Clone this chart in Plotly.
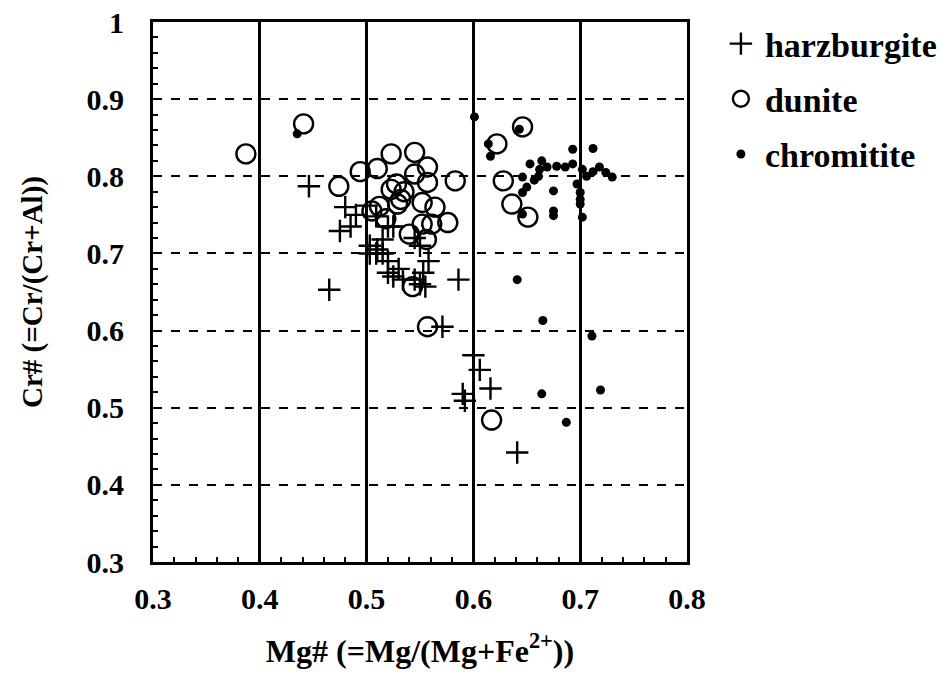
import plotly.graph_objects as go

harz_x = [0.446, 0.480, 0.475, 0.485, 0.490, 0.500, 0.509, 0.503, 0.509, 0.515, 0.515, 0.520,
          0.525, 0.520, 0.525, 0.534, 0.545, 0.550, 0.553, 0.555, 0.558, 0.550, 0.545, 0.586,
          0.571, 0.465, 0.600, 0.606, 0.590, 0.592, 0.616, 0.641, 0.503, 0.520, 0.510, 0.530]
harz_y = [0.787, 0.760, 0.729, 0.735, 0.750, 0.762, 0.748, 0.700, 0.700, 0.700, 0.718, 0.735,
          0.735, 0.675, 0.670, 0.666, 0.666, 0.660, 0.675, 0.657, 0.690, 0.710, 0.720, 0.666,
          0.605, 0.653, 0.568, 0.549, 0.518, 0.509, 0.525, 0.442, 0.710, 0.690, 0.705, 0.680]

dun_x = [0.387, 0.441, 0.474, 0.494, 0.510, 0.523, 0.545, 0.557, 0.545, 0.557, 0.583, 0.528,
         0.523, 0.552, 0.564, 0.512, 0.529, 0.552, 0.561, 0.576, 0.556, 0.543, 0.557, 0.617,
         0.646, 0.622, 0.628, 0.636, 0.651, 0.535, 0.505, 0.540, 0.518, 0.532]
dun_y = [0.829, 0.868, 0.787, 0.806, 0.810, 0.829, 0.831, 0.812, 0.803, 0.792, 0.794, 0.790,
         0.783, 0.766, 0.760, 0.761, 0.764, 0.738, 0.738, 0.740, 0.718, 0.657, 0.605, 0.484,
         0.864, 0.842, 0.794, 0.764, 0.747, 0.780, 0.755, 0.725, 0.745, 0.770]

chr_x = [0.435, 0.601, 0.643, 0.614, 0.616, 0.646, 0.653, 0.664, 0.669, 0.678, 0.686, 0.693,
         0.712, 0.693, 0.702, 0.712, 0.718, 0.730, 0.646, 0.661, 0.650, 0.646, 0.675, 0.697,
         0.700, 0.700, 0.700, 0.675, 0.675, 0.702, 0.662, 0.641, 0.665, 0.711, 0.664, 0.687,
         0.719, 0.706, 0.724, 0.657]
chr_y = [0.855, 0.877, 0.861, 0.842, 0.826, 0.751, 0.816, 0.820, 0.812, 0.813, 0.812, 0.835,
         0.836, 0.816, 0.809, 0.806, 0.812, 0.799, 0.799, 0.800, 0.786, 0.779, 0.781, 0.790,
         0.779, 0.770, 0.764, 0.755, 0.749, 0.747, 0.809, 0.666, 0.613, 0.593, 0.518, 0.481,
         0.523, 0.800, 0.805, 0.795]

x_ticks = [0.3, 0.4, 0.5, 0.6, 0.7, 0.8]
y_ticks = [0.3, 0.4, 0.5, 0.6, 0.7, 0.8, 0.9, 1.0]
y_tick_text = ["0.3", "0.4", "0.5", "0.6", "0.7", "0.8", "0.9", "1"]

font_family = "Liberation Serif"

fig = go.Figure()
fig.add_trace(go.Scatter(x=harz_x, y=harz_y, mode="markers", name="<b>harzburgite</b>",
                         legendgroup="h",
                         marker=dict(symbol="cross-thin", size=16, color="black",
                                     line=dict(color="black", width=2.4))))
fig.add_trace(go.Scatter(x=dun_x, y=dun_y, mode="markers", name="<b>dunite</b>",
                         legendgroup="d",
                         marker=dict(symbol="circle-open", size=19, color="black",
                                     line=dict(color="black", width=2.4))))
fig.add_trace(go.Scatter(x=chr_x, y=chr_y, mode="markers", name="<b>chromitite</b>",
                         legendgroup="c",
                         marker=dict(symbol="circle", size=9, color="black")))

fig.update_layout(
    width=947, height=683,
    margin=dict(l=153, r=260, t=22, b=121, autoexpand=False),
    paper_bgcolor="white", plot_bgcolor="white",
    font=dict(family=font_family, color="black", size=24),
    legend=dict(x=1.056, y=1.013, xanchor="left", yanchor="top",
                font=dict(family=font_family, size=34, color="black"),
                bgcolor="rgba(0,0,0,0)", tracegroupgap=8, itemwidth=38),
    showlegend=True,
)

fig.update_xaxes(
    range=[0.3, 0.8], tickvals=x_ticks, ticktext=[f"<b>{v}</b>" for v in x_ticks],
    showgrid=True, gridcolor="black", gridwidth=2.5, griddash="solid",
    showline=True, linecolor="black", linewidth=3, mirror=True,
    ticks="inside", ticklen=9, tickcolor="black", tickwidth=1.5,
    minor=dict(dtick=0.02, ticks="inside", ticklen=5, tickcolor="black", showgrid=False),
    zeroline=False, ticklabelstandoff=8, ticklabeloverflow="allow",
    tickfont=dict(family=font_family, size=30),
    title=dict(text="<b>Mg# (=Mg/(Mg+Fe<sup>2+</sup>))</b>", font=dict(family=font_family, size=32),
               standoff=26),
)
fig.update_yaxes(
    range=[0.3, 1.0], tickvals=y_ticks, ticktext=[f"<b>{t}</b>" for t in y_tick_text],
    showgrid=True, gridcolor="black", gridwidth=1.5, griddash="dash",
    showline=True, linecolor="black", linewidth=3, mirror=True,
    ticks="inside", ticklen=9, tickcolor="black", tickwidth=1.5,
    minor=dict(dtick=0.02, ticks="inside", ticklen=5, tickcolor="black", showgrid=False),
    zeroline=False, ticklabelstandoff=20, ticklabeloverflow="allow",
    tickfont=dict(family=font_family, size=30),
    title=dict(text="<b>Cr# (=Cr/(Cr+Al))</b>", font=dict(family=font_family, size=29),
               standoff=36),
)

fig.write_html("out.html", config={"displayModeBar": False},
               post_script="document.body.style.margin='0';")
